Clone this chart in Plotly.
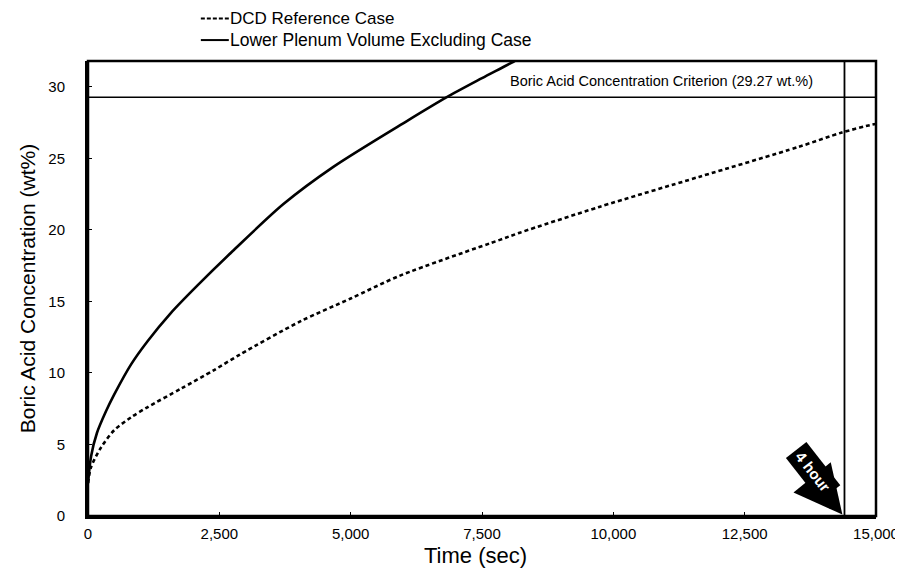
import plotly.graph_objects as go

# Data
solid_name = "Lower Plenum Volume Excluding Case"
solid_t = [0, 60, 170, 340, 500, 820, 1130, 1580, 2080, 2750, 3720, 4670, 6070, 6830, 7500, 8120, 8300]
solid_c = [2.3, 4.2, 5.8, 7.3, 8.5, 10.6, 12.2, 14.2, 16.1, 18.5, 21.8, 24.4, 27.6, 29.27, 30.6, 31.8, 32.2]

dash_name = "DCD Reference Case"
dash_t = [0, 57, 250, 500, 820, 1130, 1770, 2400, 2900, 4040, 5000, 5940, 7840, 8220, 9730, 11630, 13530, 14350, 14920, 15000]
dash_c = [2.3, 3.4, 4.8, 6.0, 6.9, 7.6, 8.9, 10.2, 11.3, 13.6, 15.2, 16.8, 19.3, 19.8, 21.6, 23.7, 25.8, 26.8, 27.35, 27.4]

criterion = 29.27
criterion_label = "Boric Acid Concentration Criterion (29.27 wt.%)"
four_hour = 14400

x_ticks = [0, 2500, 5000, 7500, 10000, 12500, 15000]
x_tick_labels = ["0", "2,500", "5,000", "7,500", "10,000", "12,500", "15,000"]
y_ticks = [0, 5, 10, 15, 20, 25, 30]

FONT = "Liberation Sans, Arial, sans-serif"

fig = go.Figure()
fig.add_trace(go.Scatter(x=dash_t, y=dash_c, mode="lines", name=dash_name,
                         line=dict(color="black", width=2.6, dash="4px,3px",
                                   shape="spline", smoothing=0.8)))
fig.add_trace(go.Scatter(x=solid_t, y=solid_c, mode="lines", name=solid_name,
                         line=dict(color="black", width=2.6, shape="spline", smoothing=0.8)))

# criterion horizontal line
fig.add_shape(type="line", xref="paper", yref="y", x0=0, x1=1, y0=criterion, y1=criterion,
              line=dict(color="black", width=1.5))
# 4 hour vertical line
fig.add_shape(type="line", xref="x", yref="paper", x0=four_hour, x1=four_hour, y0=0, y1=1,
              line=dict(color="black", width=1.8))
# plot frame
fig.add_shape(type="rect", xref="paper", yref="paper", x0=0, x1=1, y0=0, y1=1,
              line=dict(color="black", width=2.5))

# manual legend (top, outside plot)
LEG_Y1, LEG_Y2 = 1.0935, 1.0460
fig.add_shape(type="line", xref="paper", yref="paper", x0=0.1432, x1=0.1787, y0=LEG_Y1, y1=LEG_Y1,
              line=dict(color="black", width=2, dash="4px,2px"))
fig.add_shape(type="line", xref="paper", yref="paper", x0=0.1432, x1=0.1787, y0=LEG_Y2, y1=LEG_Y2,
              line=dict(color="black", width=2))
fig.add_annotation(x=0.1775, y=LEG_Y1, xref="paper", yref="paper", text=dash_name,
                   showarrow=False, xanchor="left", yanchor="middle",
                   font=dict(family=FONT, size=17, color="black"))
fig.add_annotation(x=0.1775, y=LEG_Y2, xref="paper", yref="paper", text=solid_name,
                   showarrow=False, xanchor="left", yanchor="middle",
                   font=dict(family=FONT, size=17.5, color="black"))

fig.add_annotation(x=10910, y=30.4, xref="x", yref="y", text=criterion_label,
                   showarrow=False, font=dict(family=FONT, size=14.5, color="black"))

# 4 hour arrow
fig.add_annotation(x=four_hour - 40, y=0.1, xref="x", yref="y", ax=-26, ay=-32,
                   showarrow=True, arrowhead=2, arrowsize=0.8, arrowwidth=12,
                   arrowcolor="black", text="", standoff=0)
fig.add_annotation(x=13800, y=3.1, xref="x", yref="y", text="<b>4 hour</b>",
                   showarrow=False, textangle=52, bgcolor="black",
                   font=dict(family=FONT, size=15, color="white"),
                   borderpad=4)

fig.add_annotation(x=7380, y=-0.087, xref="x", yref="paper", text="Time (sec)",
                   showarrow=False, font=dict(family=FONT, size=22, color="black"),
                   yanchor="middle")

fig.update_layout(
    width=895, height=566,
    margin=dict(l=80, r=27, t=53, b=58),
    paper_bgcolor="white", plot_bgcolor="white",
    showlegend=False,
    font=dict(family=FONT, color="black"),
)
fig.update_xaxes(range=[0, 15000], tickvals=x_ticks, ticktext=x_tick_labels,
                 automargin=False, ticklabeloverflow="allow",
                 showgrid=False, zeroline=False, showline=True, linecolor="black", linewidth=3,
                 ticks="inside", ticklen=4, tickcolor="black",
                 tickfont=dict(family=FONT, size=15, color="black"),
                 ticklabelstandoff=2)
fig.update_yaxes(range=[0, 31.8], tickvals=y_ticks,
                 automargin=False,
                 showgrid=False, zeroline=False, showline=True, linecolor="black", linewidth=3,
                 ticks="inside", ticklen=4, tickcolor="black",
                 tickfont=dict(family=FONT, size=15, color="black"),
                 ticklabelstandoff=17,
                 title=dict(text="Boric Acid Concentration (wt%)",
                            font=dict(family=FONT, size=21, color="black"),
                            standoff=7))

fig.write_html("out.html")
